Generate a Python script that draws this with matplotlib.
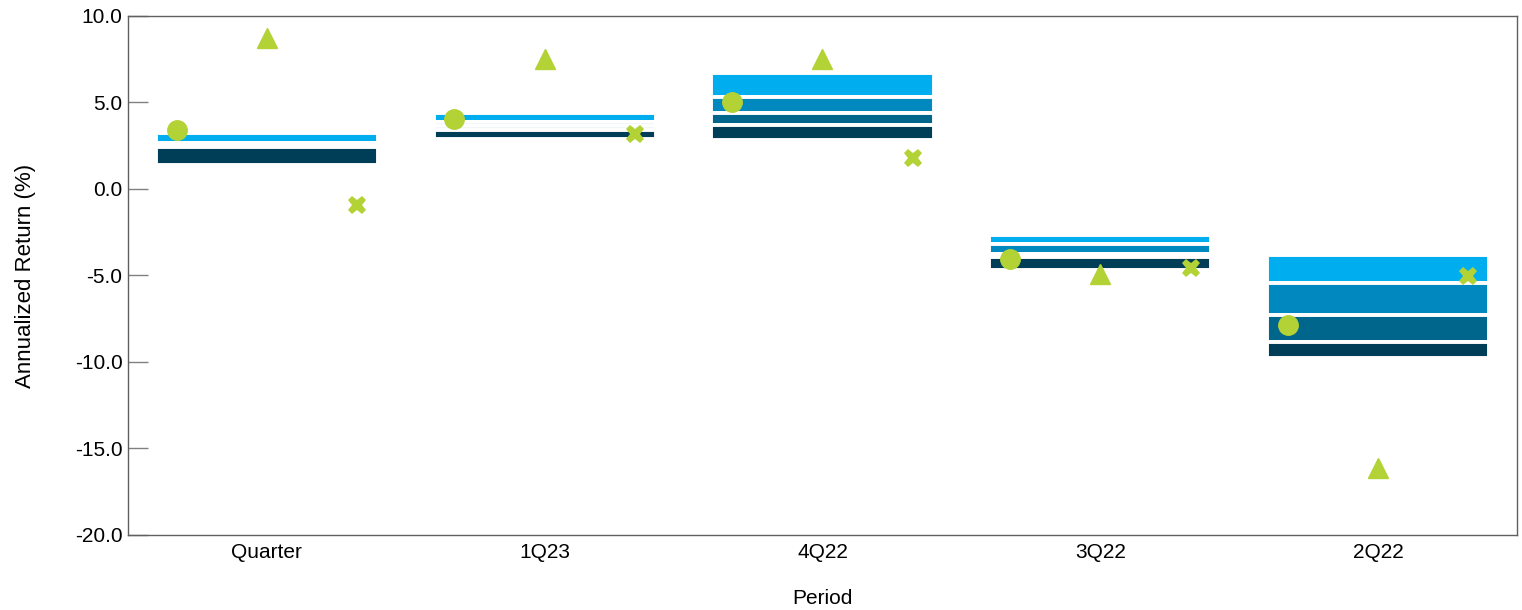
import matplotlib
matplotlib.use("Agg")
import matplotlib.pyplot as plt
import numpy as np

plt.rcParams['font.family'] = ['Liberation Sans', 'DejaVu Sans']

# Periods and percentile breakpoints (5th, 25th, median, 75th, 95th)
periods = ["Quarter", "1Q23", "4Q22", "3Q22", "2Q22"]
p05 = [3.25, 4.41, 6.72, -2.66, -3.80]
p25 = [2.68, 3.85, 5.30, -3.17, -5.43]
p50 = [2.55, 3.63, 4.41, -3.75, -7.28]
p75 = [2.42, 3.41, 3.72, -3.93, -8.87]
p95 = [1.37, 2.89, 2.85, -4.70, -9.77]

# Individual returns shown as markers
circle_vals = [3.43, 4.05, 5.03, -4.06, -7.84]
triangle_vals = [8.71, 7.49, 7.54, -4.90, -16.13]
cross_vals = [-0.95, 3.18, 1.79, -4.57, -5.05]

band_colors = ["#00aeef", "#0088bf", "#00668c", "#003d57"]
marker_color = "#b3d235"

fig = plt.figure(figsize=(15.22, 6.10), dpi=100)
ax = fig.add_axes([0.0841, 0.123, 0.9126, 0.8508])

x = np.arange(len(periods))
edges = [p05, p25, p50, p75, p95]

# Stacked percentile bands, white outlines separate them
for i in range(4):
    top = np.array(edges[i])
    bottom = np.array(edges[i + 1])
    ax.bar(x, top - bottom, bottom=bottom, width=0.8,
           color=band_colors[i], edgecolor="white", linewidth=2.8, zorder=2)

ax.plot(x - 0.325, circle_vals, linestyle="none", marker="o",
        markersize=14, color=marker_color, zorder=3)
ax.plot(x, triangle_vals, linestyle="none", marker="^",
        markersize=14, color=marker_color, zorder=3)
ax.plot(x + 0.325, cross_vals, linestyle="none", marker="X",
        markersize=13, color=marker_color, markeredgewidth=0, zorder=3)

ax.set_xlim(-0.5, len(periods) - 0.5)
ax.set_ylim(-20, 10)
yt = np.arange(-20, 10.1, 5)
ax.set_yticks(yt)
ax.set_yticklabels([f"{v:.1f}" for v in yt])
ax.set_xticks(x)
ax.set_xticklabels(periods)

ax.tick_params(axis="y", direction="in", length=14.4, width=1,
               color="#808080", labelsize=15, pad=4)
ax.tick_params(axis="x", length=0, labelsize=15, pad=6)

for s in ax.spines.values():
    s.set_color("#606060")
    s.set_linewidth(1)

ax.set_xlabel("Period", fontsize=15, labelpad=19)
ax.set_ylabel("Annualized Return (%)", fontsize=16, labelpad=28)

fig.savefig("out.png", dpi=100)
